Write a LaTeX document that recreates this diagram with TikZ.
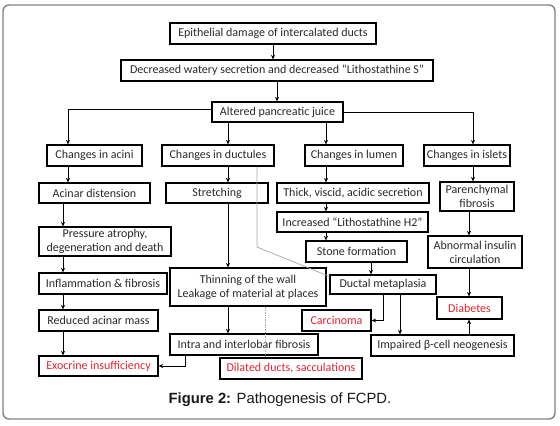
\documentclass[tikz,border=0pt]{standalone}
\usepackage{fontspec}
\setmainfont{Carlito}
\newfontfamily\capfont{Liberation Sans}
\usetikzlibrary{arrows.meta}
\definecolor{redt}{RGB}{214,38,48}
\definecolor{txt}{RGB}{40,40,40}
\definecolor{framec}{RGB}{130,130,130}
\newcommand\Bx[7][]{\node[box,#1,minimum width={(#5-#3)*1pt},minimum height={(#6-#4)*1pt}] (#2) at ({(#3+#5)/2},{(#4+#6)/2}) {#7};}
\begin{document}
\begin{tikzpicture}[x=1pt,y=-1pt,
  box/.style={draw, line width=1.2pt, inner sep=0pt, align=center, text=txt, font=\fontsize{12}{14}\selectfont},
  redbox/.style={text=redt},
  arr/.style={-{Stealth[length=4.5pt,width=4pt]}, line width=0.9pt},
  greyline/.style={draw=black!35, line width=0.7pt}]
\useasboundingbox (0,0) rectangle (560,426);
\draw[framec, line width=1.4pt, rounded corners=6pt] (3,5) rectangle (555,419);
% columns
\foreach \c in {63,68,185,228,257,265,326,371,383,400,469,473}{\coordinate (c\c) at (\c,0);}
% nodes
\Bx{b1}{170}{23}{376}{44}{Epithelial damage of intercalated ducts}
\Bx{b2}{121}{60}{433}{81}{Decreased watery secretion and decreased “Lithostathine S”}
\Bx{b3}{212}{102}{343}{122}{Altered pancreatic juice}
\Bx{acini}{47}{145}{142}{166}{Changes in acini}
\Bx{ductules}{162}{145}{274}{166}{Changes in ductules}
\Bx{lumen}{305}{145}{403}{166}{Changes in lumen}
\Bx{islets}{424}{145}{510}{166}{Changes in islets}
\Bx{acd}{39}{183}{150}{203}{Acinar distension}
\Bx{stretch}{166}{183}{268}{203}{Stretching}
\Bx{thick}{277}{183}{429}{203}{Thick, viscid, acidic secretion}
\Bx{paren}{440}{182}{514}{211}{Parenchymal\\fibrosis}
\Bx{press}{39}{227}{171}{256}{Pressure atrophy,\\degeneration and death}
\Bx{litho}{277}{212}{428}{232}{Increased “Lithostathine H2”}
\Bx{stone}{306}{241}{407}{262}{Stone formation}
\Bx{abn}{428}{236}{522}{268}{Abnormal insulin\\circulation}
\Bx{infl}{39}{273}{167}{294}{Inflammation \& fibrosis}
\Bx{thin}{170}{268}{326}{306}{Thinning of the wall\\Leakage of material at places}
\Bx{dm}{330}{275}{436}{294}{Ductal metaplasia}
\Bx{ram}{39}{310}{158}{331}{Reduced acinar mass}
\Bx[redbox]{carc}{302}{310}{371}{331}{Carcinoma}
\Bx[redbox]{diab}{437}{297}{502}{319}{Diabetes}
\Bx{intra}{170}{334}{318}{355}{Intra and interlobar fibrosis}
\Bx{imp}{371}{335}{514}{356}{Impaired β-cell neogenesis}
\Bx[redbox]{exo}{39}{356}{158}{376}{Exocrine insufficiency}
\Bx[redbox]{dil}{220}{358}{362}{379}{Dilated ducts, sacculations}
% grey lines
\coordinate (g1) at (257,247);
\draw[greyline] (ductules.south -| c257) -- (g1) -- ([yshift=-2pt]dm.north west);
\draw[greyline, densely dotted] (thin.south -| c265) -- (dil.north -| c265);
% connectors
\draw[arr] (b1.south) -- (b1.south |- b2.north);
\draw[arr] (b2.south) -- (b2.south |- b3.north);
\draw[arr] ([yshift=3pt]b3.west) -| (acini.north -| c68);
\draw[arr] (b3.east) -| (islets.north -| c473);
\draw[arr] (b3.south -| c228) -- (ductules.north -| c228);
\draw[arr] (b3.south -| c326) -- (lumen.north -| c326);
\draw[arr] (acini.south -| c68) -- (acd.north -| c68);
\draw[arr] (acd.south -| c63) -- (press.north -| c63);
\draw[arr] (press.south -| c63) -- (infl.north -| c63);
\draw[arr] (infl.south -| c63) -- (ram.north -| c63);
\draw[arr] (ram.south -| c63) -- (exo.north -| c63);
\draw[arr] (ductules.south -| c228) -- (stretch.north -| c228);
\draw[arr] (stretch.south -| c228) -- (thin.north -| c228);
\draw[arr] (thin.south -| c228) -- (intra.north -| c228);
\draw[arr] (intra.south -| c185) |- (exo.east);
\draw[arr] (lumen.south -| c326) -- (thick.north -| c326);
\draw[arr] (thick.south -| c326) -- (litho.north -| c326);
\draw[arr] (litho.south -| c326) -- (stone.north -| c326);
\draw[arr] (stone.south -| c371) -- (dm.north -| c371);
\draw[arr] (dm.south -| c383) |- (carc.east);
\draw[arr] (dm.south -| c400) -- (imp.north -| c400);
\draw[arr] (islets.south -| c473) -- (paren.north -| c473);
\draw[arr] (paren.south -| c469) -- (abn.north -| c469);
\draw[arr] (abn.south -| c469) -- (diab.north -| c469);
\draw[arr] (imp.north -| c469) -- (diab.south -| c469);
% caption
\node[inner sep=0pt, text=black!90, font=\capfont\fontsize{14.8}{17}\selectfont] (cap) at (280,400) {\textbf{Figure 2:} Pathogenesis of FCPD.};
\end{tikzpicture}
\end{document}
